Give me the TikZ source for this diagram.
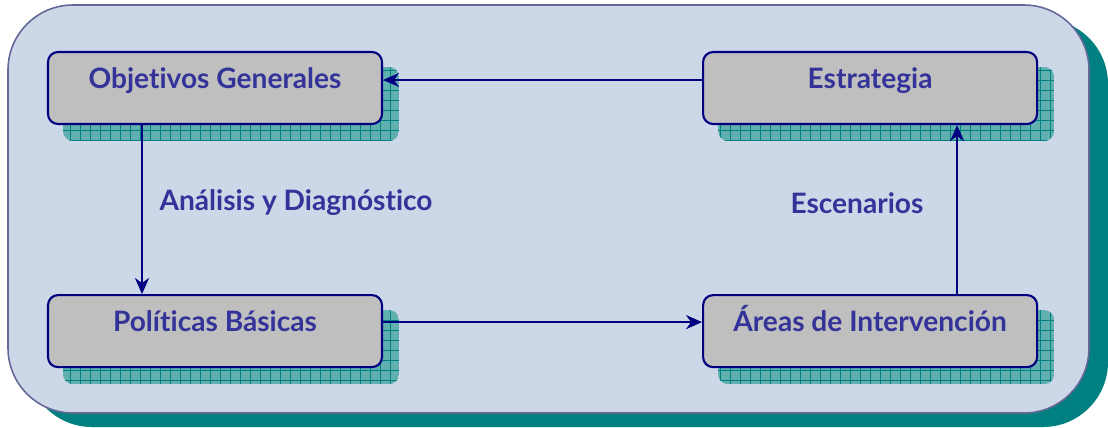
\documentclass[tikz,border=0pt]{standalone}
\usepackage{fontspec}
\setmainfont{Lato}[Ligatures=NoCommon]
\usepackage{tikz}
\usetikzlibrary{arrows.meta}
\usetikzlibrary{positioning}
\usetikzlibrary{backgrounds}
\definecolor{navy}{RGB}{0,0,128}
\definecolor{labelblue}{RGB}{51,51,153}
\definecolor{panelfill}{RGB}{204,216,232}
\definecolor{panelline}{RGB}{102,102,153}
\definecolor{tealdark}{RGB}{0,128,128}
\definecolor{teallight}{RGB}{96,176,176}
\tikzstyle{every node}+=[inner sep=0pt]
\tikzstyle{stage} = [rectangle, draw=navy, line width=1.2pt, fill=black!25, rounded corners=0.2cm, minimum width=6.68cm, text height=0.72cm, text depth=0.72cm, font=\bfseries\fontsize{16}{18}\selectfont, text=labelblue]
\tikzstyle{tag} = [font=\bfseries\fontsize{16}{18}\selectfont, text=labelblue]
\tikzstyle{line} = [draw=navy, line width=1.3pt, -{Stealth[length=0.32cm, width=0.28cm, inset=0.1cm]}]
% grid shadow behind a stage box
\newcommand{\gridshadow}[1]{%
  \begin{scope}
    \clip[rounded corners=0.2cm] ([shift={(0.32,-0.32)}]#1.south west) rectangle ([shift={(0.32,-0.32)}]#1.north east);
    \fill[teallight] ([shift={(0.32,-0.32)}]#1.south west) rectangle ([shift={(0.32,-0.32)}]#1.north east);
    \draw[tealdark, line width=0.3pt, step=0.2cm] ([shift={(0.32,-0.32)}]#1.south west) grid ([shift={(0.32,-0.32)}]#1.north east);
  \end{scope}}

\begin{document}
\begin{tikzpicture}[node distance = 2cm, auto]
  \useasboundingbox (0,0) rectangle (22.16,-8.54);
  % Place nodes
  \node [stage] (obj) at (4.30,-1.76) {Objetivos Generales};
  \node [stage, right=6.38cm of obj] (est) {Estrategia};
  \node [stage, below=3.38cm of obj] (pol) {Políticas Básicas};
  \node [stage, right=6.38cm of pol] (are) {Áreas de Intervención};
  \node [tag] (ana) at (5.92,-4.06) {Análisis y Diagnóstico};
  \node [tag] (esc) at (17.14,-4.06) {Escenarios};
  % Panel and shadows
  \begin{pgfonlayer}{background}
    \fill[tealdark, rounded corners=1.3cm] (0.54,-0.38) rectangle (22.16,-8.54);
    \draw[panelline, fill=panelfill, line width=0.9pt, rounded corners=1.3cm] (0.16,-0.10) rectangle (21.78,-8.26);
    \gridshadow{obj}
    \gridshadow{est}
    \gridshadow{pol}
    \gridshadow{are}
  \end{pgfonlayer}
  % Draw edges
  \path [line] ([yshift=0.16cm]est.west) -- ([yshift=0.16cm]obj.east);
  \path [line] ([xshift=-1.46cm]obj.south) -- ([xshift=-1.46cm]pol.north);
  \path [line] ([yshift=0.18cm]pol.east) -- ([yshift=0.18cm]are.west);
  \path [line] ([xshift=1.74cm]are.north) -- ([xshift=1.74cm]est.south);
\end{tikzpicture}
\end{document}
